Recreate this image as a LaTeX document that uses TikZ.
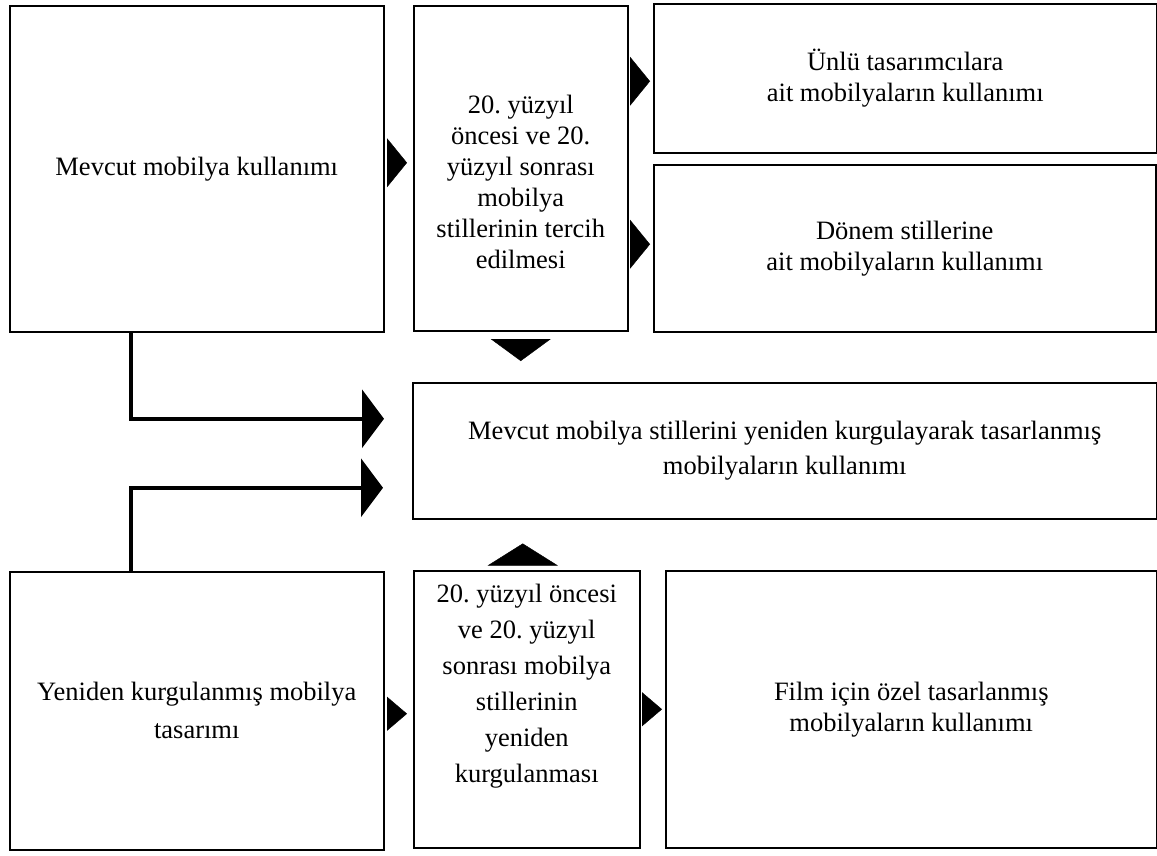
\documentclass[tikz,border=0pt]{standalone}
\usepackage{fontspec}
\setmainfont{Liberation Serif}
\frenchspacing
\usetikzlibrary{arrows.meta,positioning}

\begin{document}
\begin{tikzpicture}[
        x=1pt, y=1pt,
        box/.style={rectangle,draw,line width=1.5pt,anchor=north west,inner sep=0pt,align=center,
            font=\fontsize{26.5}{31}\selectfont},
        arrow/.style={-{Triangle[length=20pt,width=49pt]}},
        small arrow/.style={-{Triangle[length=20pt,width=34pt]}},
        flat arrow/.style={-{Triangle[length=22pt,width=#1]}},
        link/.style={line width=3.8pt,-{Triangle[length=22pt,width=58pt]}}
    ]
        \useasboundingbox[fill=white] (0,0) rectangle (1157,-855);

        % ust sira
        \node[box, minimum width=374pt, minimum height=326pt] (mevcut) at (9,-5) {Mevcut mobilya kullanımı};
        \node[box, minimum width=214pt, minimum height=325pt] (tercih) at (413,-5)
            {\rule{0pt}{46pt}20. yüzyıl\\ öncesi ve 20.\\ yüzyıl sonrası\\ mobilya\\ stillerinin tercih\\ edilmesi};
        \node[box, minimum width=503pt, minimum height=149pt] (unlu) at (653,-3) {Ünlü tasarımcılara\\ ait mobilyaların kullanımı};
        \node[box, minimum width=502pt, minimum height=167pt] (donem) at (653,-164) {Dönem stillerine\\ ait mobilyaların kullanımı};

        % orta
        \node[box, minimum width=744pt, minimum height=136pt, font=\fontsize{26.5}{35}\selectfont] (yeniden) at (412,-382)
            {Mevcut mobilya stillerini yeniden kurgulayarak tasarlanmış\\ mobilyaların kullanımı};

        % alt sira
        \node[box, minimum width=374pt, minimum height=278pt, font=\fontsize{26.5}{38}\selectfont] (kurgu) at (9,-571)
            {Yeniden kurgulanmış mobilya\\ tasarımı};
        \node[box, minimum width=226pt, minimum height=277pt, font=\fontsize{26.5}{36}\selectfont] (kurgulama) at (413,-570)
            {20. yüzyıl öncesi\\ ve 20. yüzyıl\\ sonrası mobilya\\ stillerinin\\ yeniden\\ kurgulanması\rule[-52pt]{0pt}{0pt}};
        \node[box, minimum width=491pt, minimum height=277pt] (film) at (665,-570) {Film için özel tasarlanmış\\ mobilyaların kullanımı};

        \draw[arrow, shorten <=4pt, shorten >=6pt] ([yshift=6pt]mevcut.east) -- ([yshift=6pt]mevcut.east -| tercih.west);
        \draw[arrow, shorten <=4pt, shorten >=3pt] ([yshift=-3pt]unlu.west -| tercih.east) -- ([yshift=-3pt]unlu.west);
        \draw[arrow, shorten <=3pt, shorten >=3pt] ([yshift=4pt]donem.west -| tercih.east) -- ([yshift=4pt]donem.west);

        \draw[flat arrow=60pt, shorten <=9pt, shorten >=21pt] (tercih.south) -- (tercih.south |- yeniden.north);
        \draw[flat arrow=70pt, shorten <=6pt, shorten >=24pt] ([xshift=-4pt]kurgulama.north) -- ([xshift=-4pt]kurgulama.north |- yeniden.south);

        \draw[link, shorten >=28pt] ([xshift=122pt]mevcut.south west) |- ([yshift=32pt]yeniden.west);
        \draw[link, shorten >=29pt] ([xshift=122pt]kurgu.north west) |- ([yshift=-37pt]yeniden.west);

        \draw[small arrow, shorten <=4pt, shorten >=6pt] ([yshift=-3pt]kurgu.east) -- ([yshift=-3pt]kurgu.east -| kurgulama.west);
        \draw[small arrow, shorten <=4pt, shorten >=3pt] (kurgulama.east) -- (kurgulama.east -| film.west);
    \end{tikzpicture}
\end{document}
